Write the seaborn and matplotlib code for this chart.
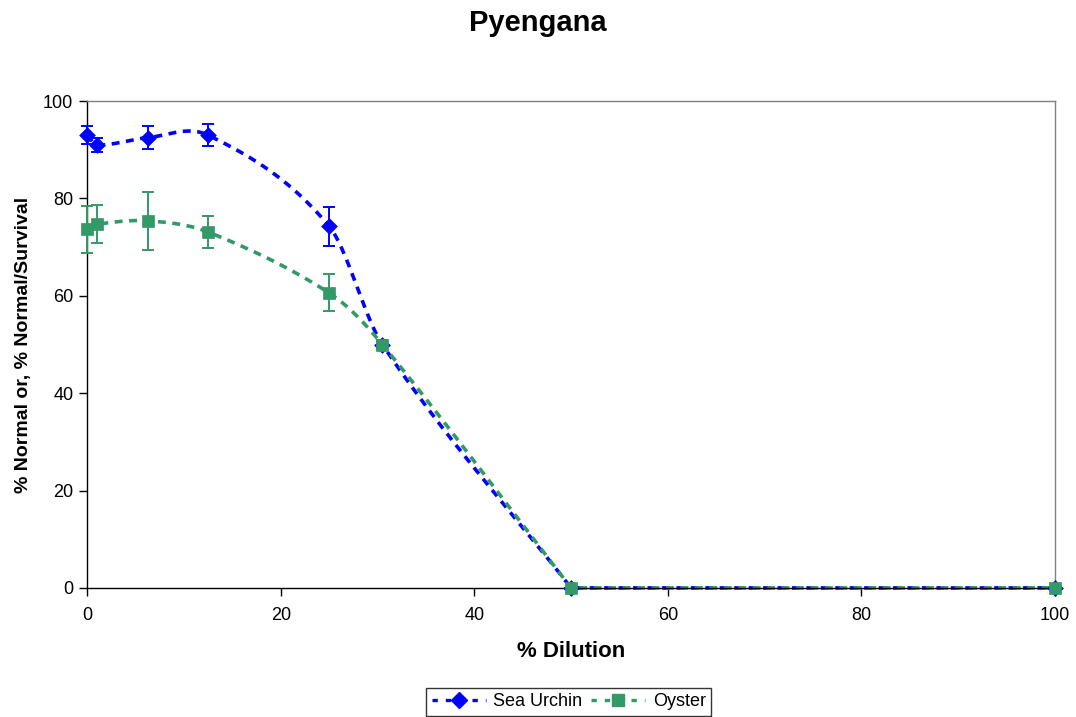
import numpy as np
import pandas as pd
import matplotlib
matplotlib.use('Agg')
import matplotlib.pyplot as plt
from matplotlib.lines import Line2D
import seaborn as sns

# Values
dilution = [0, 1, 6.25, 12.5, 25, 30.5, 50, 100]
urchin = [93.0, 91.0, 92.5, 93.0, 74.3, 50.0, 0, 0]
urchin_err = [1.8, 1.4, 2.4, 2.3, 4.0, 0.8, 0, 0]
oyster = [73.7, 74.7, 75.4, 73.1, 60.6, 50.0, 0, 0]
oyster_err = [4.8, 3.9, 5.9, 3.3, 3.8, 1.0, 0, 0]

blue = '#0000FF'
green = '#339966'


def smooth(x, y, n=60):
    # cubic Hermite through the points (Excel-like "smoothed line"),
    # with one-sided tangents next to flat segments
    x = np.asarray(x, float)
    y = np.asarray(y, float)
    d = np.diff(y) / np.diff(x)
    mr = np.zeros_like(y)  # tangent leaving point i
    ml = np.zeros_like(y)  # tangent arriving at point i
    mr[0], ml[-1] = d[0], d[-1]
    for i in range(1, len(x) - 1):
        if d[i - 1] == 0 or d[i] == 0:
            ml[i], mr[i] = d[i - 1], d[i]
        else:
            ml[i] = mr[i] = (y[i + 1] - y[i - 1]) / (x[i + 1] - x[i - 1])
    xs, ys = [], []
    for i in range(len(x) - 1):
        h = x[i + 1] - x[i]
        t = np.linspace(0, 1, n)
        h00 = 2 * t**3 - 3 * t**2 + 1
        h10 = t**3 - 2 * t**2 + t
        h01 = -2 * t**3 + 3 * t**2
        h11 = t**3 - t**2
        xs.append(x[i] + t * h)
        ys.append(h00 * y[i] + h10 * h * mr[i] + h01 * y[i + 1] + h11 * h * ml[i + 1])
    return np.concatenate(xs), np.concatenate(ys)


sns.set_style('white')
plt.rcParams['font.family'] = ['Liberation Sans', 'DejaVu Sans']
plt.rcParams['text.color'] = 'black'
plt.rcParams['axes.labelcolor'] = 'black'

fig = plt.figure(figsize=(10.76, 7.17), dpi=100)
ax = fig.add_axes([0.081, 0.18, 0.8995, 0.679])

series = [('Sea Urchin', urchin, urchin_err, blue, 'D', 8),
          ('Oyster', oyster, oyster_err, green, 's', 8)]

for name, vals, err, col, mk, ms in series:
    sx, sy = smooth(dilution, vals)
    curve = pd.DataFrame({'x': sx, 'y': sy})
    sns.lineplot(data=curve, x='x', y='y', ax=ax, color=col, lw=2.6,
                 dashes=False, sort=False, estimator=None)
    ax.lines[-1].set_dashes((2.2, 1.8))
    ax.lines[-1].set_clip_on(False)
    eb = ax.errorbar(dilution, vals, yerr=err, fmt='none', ecolor=col,
                     elinewidth=1.4, capsize=4, capthick=1.4, zorder=3)
    for art in eb.lines[1] + eb.lines[2]:
        art.set_clip_on(False)
    pts = pd.DataFrame({'x': dilution, 'y': vals})
    sns.scatterplot(data=pts, x='x', y='y', ax=ax, color=col, marker=mk,
                    s=ms**2, edgecolor=col, linewidth=0.5, zorder=4)
    ax.collections[-1].set_clip_on(False)

ax.set_xlim(0, 100)
ax.set_ylim(0, 100)
ax.set_xticks(range(0, 101, 20))
ax.set_yticks(range(0, 101, 20))
ax.tick_params(axis='both', direction='out', length=6, width=1,
               labelsize=13, colors='black', bottom=True, left=True)
ax.tick_params(axis='x', pad=8)
ax.tick_params(axis='y', pad=4)

for s in ['top', 'right']:
    ax.spines[s].set_color('#808080')
    ax.spines[s].set_linewidth(1)
for s in ['left', 'bottom']:
    ax.spines[s].set_color('black')
    ax.spines[s].set_linewidth(1)

ax.set_xlabel('% Dilution', fontsize=16, fontweight='bold', labelpad=12)
ax.set_ylabel('% Normal or, % Normal/Survival', fontsize=14, fontweight='bold', labelpad=8)
fig.suptitle('Pyengana', fontsize=21, fontweight='bold', y=0.988)

handles = [Line2D([], [], color=c, lw=2.4, dashes=(1.6, 2.4), marker=mk,
                  markersize=8, markeredgecolor=c)
           for _, _, _, c, mk, _ in series]
leg = fig.legend(handles, [s[0] for s in series], loc='center',
                 bbox_to_anchor=(0.5285, 0.0215), ncol=2, fontsize=13,
                 frameon=True, fancybox=False, edgecolor='black',
                 handlelength=3.0, columnspacing=0.5, handletextpad=0.4,
                 borderpad=0.3, borderaxespad=0)
leg.get_frame().set_linewidth(1)

fig.savefig('out.png', dpi=100)
